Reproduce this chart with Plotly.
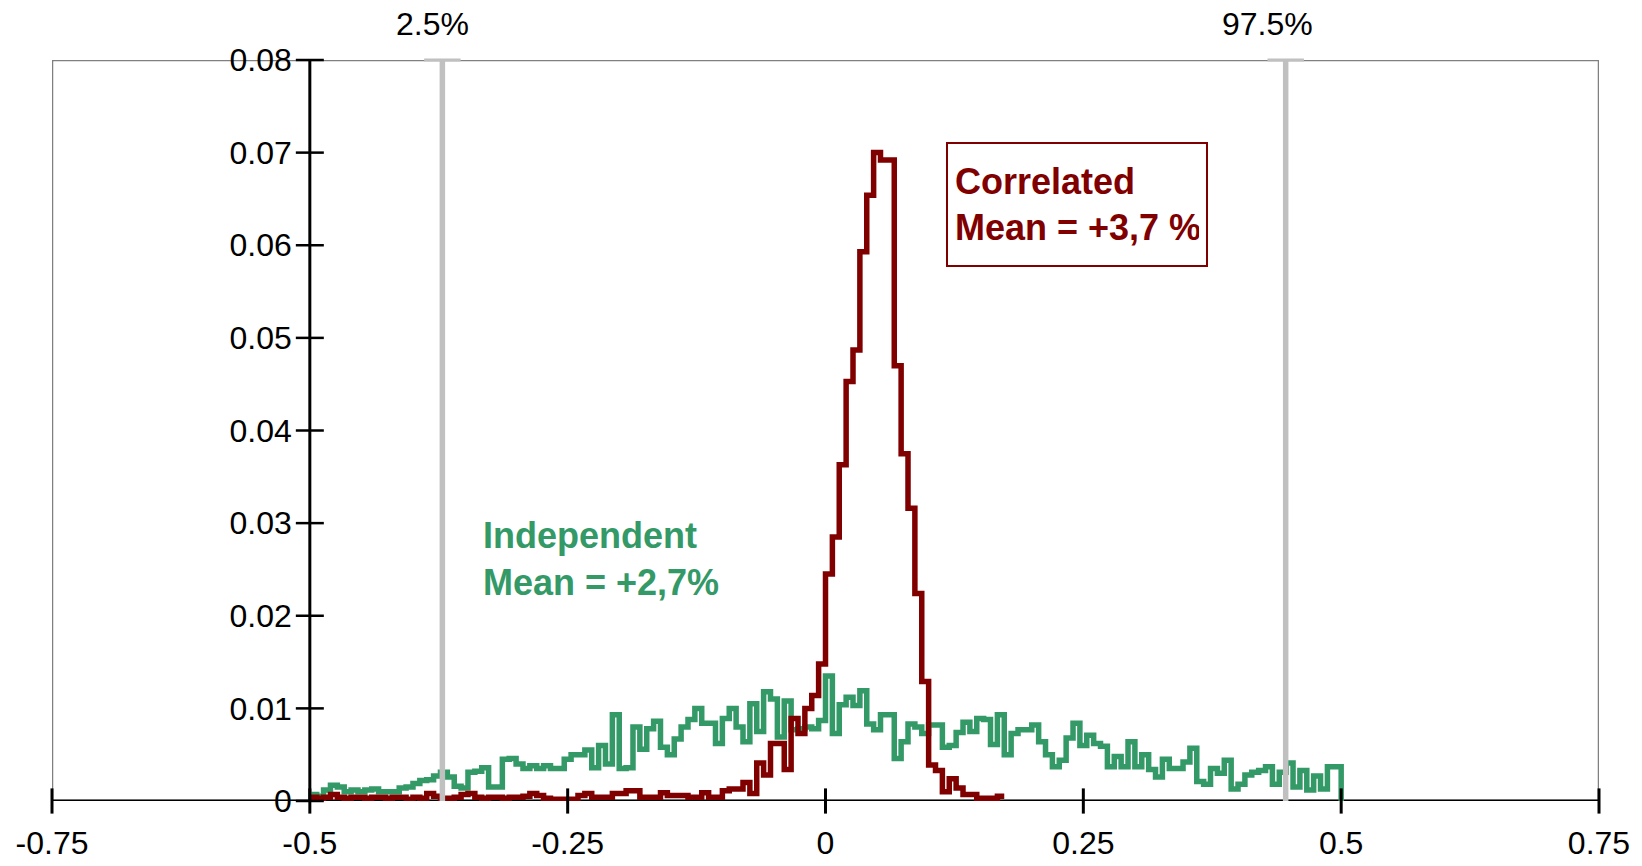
import plotly.graph_objects as go

# ---------------- data ----------------
BIN_START = -0.5
BIN_WIDTH = 1.0 / 150

INDEPENDENT = [
    0.0007, 0.0005, 0.0012, 0.0017, 0.0015, 0.0010, 0.0012, 0.0010, 0.0012, 0.0013,
    0.0010, 0.0010, 0.0010, 0.0014, 0.0015, 0.0019, 0.0022, 0.0023, 0.0027, 0.0031,
    0.0026, 0.0016, 0.0014, 0.0031, 0.0032, 0.0036, 0.0015, 0.0015, 0.0045, 0.0046,
    0.0040, 0.0035, 0.0038, 0.0035, 0.0038, 0.0035, 0.0035, 0.0045, 0.0050, 0.0050,
    0.0055, 0.0036, 0.0060, 0.0040, 0.0093, 0.0035, 0.0036, 0.0080, 0.0056, 0.0078,
    0.0086, 0.0058, 0.0050, 0.0067, 0.0080, 0.0088, 0.0100, 0.0084, 0.0084, 0.0062,
    0.0089, 0.0100, 0.0080, 0.0064, 0.0105, 0.0075, 0.0118, 0.0110, 0.0069, 0.0108,
    0.0077, 0.0078, 0.0080, 0.0078, 0.0087, 0.0135, 0.0073, 0.0104, 0.0112, 0.0103,
    0.0119, 0.0083, 0.0077, 0.0093, 0.0093, 0.0046, 0.0064, 0.0083, 0.0080, 0.0073,
    0.0082, 0.0082, 0.0058, 0.0060, 0.0074, 0.0085, 0.0075, 0.0089, 0.0088, 0.0061,
    0.0093, 0.0050, 0.0073, 0.0077, 0.0077, 0.0082, 0.0064, 0.0050, 0.0037, 0.0044,
    0.0068, 0.0084, 0.0060, 0.0071, 0.0062, 0.0059, 0.0037, 0.0048, 0.0037, 0.0064,
    0.0037, 0.0050, 0.0034, 0.0026, 0.0045, 0.0035, 0.0035, 0.0042, 0.0057, 0.0021,
    0.0018, 0.0035, 0.0030, 0.0044, 0.0013, 0.0018, 0.0028, 0.0031, 0.0033, 0.0037,
    0.0018, 0.0031, 0.0041, 0.0015, 0.0033, 0.0012, 0.0027, 0.0013, 0.0037, 0.0037,
]

CORRELATED = [
    0.0004, 0.0003, 0.0004, 0.0007, 0.0004, 0.0003, 0.0004, 0.0004, 0.0003, 0.0004,
    0.0004, 0.0003, 0.0004, 0.0004, 0.0002, 0.0004, 0.0003, 0.0008, 0.0005, 0.0002,
    0.0003, 0.0004, 0.0007, 0.0008, 0.0004, 0.0003, 0.0004, 0.0004, 0.0003, 0.0004,
    0.0004, 0.0005, 0.0008, 0.0006, 0.0003, 0.0002, 0.0002, 0.0002, 0.0002, 0.0006,
    0.0008, 0.0004, 0.0004, 0.0004, 0.0008, 0.0008, 0.0011, 0.0011, 0.0004, 0.0004,
    0.0004, 0.0009, 0.0006, 0.0006, 0.0006, 0.0004, 0.0004, 0.0009, 0.0004, 0.0004,
    0.0011, 0.0013, 0.0013, 0.0020, 0.0008, 0.0041, 0.0028, 0.0062, 0.0062, 0.0034,
    0.0089, 0.0073, 0.0100, 0.0114, 0.0148, 0.0245, 0.0285, 0.0363, 0.0453, 0.0487,
    0.0593, 0.0654, 0.0700, 0.0692, 0.0692, 0.0470, 0.0375, 0.0316, 0.0224, 0.0129,
    0.0039, 0.0033, 0.0010, 0.0024, 0.0014, 0.0007, 0.0007, 0.0003, 0.0003, 0.0003,
    0.0005,
]

X_RANGE = [-0.75, 0.75]
Y_RANGE = [0, 0.08]
X_TICKS = [-0.75, -0.5, -0.25, 0, 0.25, 0.5, 0.75]
X_TICK_LABELS = ["-0.75", "-0.5", "-0.25", "0", "0.25", "0.5", "0.75"]
Y_TICKS = [0, 0.01, 0.02, 0.03, 0.04, 0.05, 0.06, 0.07, 0.08]
Y_TICK_LABELS = ["0", "0.01", "0.02", "0.03", "0.04", "0.05", "0.06", "0.07", "0.08"]
Y_AXIS_X = -0.5
PERCENTILE_X = [-0.3715, 0.4462]
PERCENTILE_LABELS = ["2.5%", "97.5%"]

# ---------------- style ----------------
GREEN = "#339966"
DARKRED = "#800000"
GRAY_LINE = "#C0C0C0"
FRAME = "#808080"
FONT = "Liberation Sans, Arial, sans-serif"


def step_xy(vals, drop_to_zero):
    xs = [BIN_START + i * BIN_WIDTH for i in range(len(vals) + 1)]
    ys = list(vals) + [vals[-1]]
    if drop_to_zero:
        xs.append(xs[-1])
        ys.append(0)
    return xs, ys


fig = go.Figure()

gx, gy = step_xy(INDEPENDENT, True)
fig.add_trace(go.Scatter(x=gx, y=gy, mode="lines", line=dict(color=GREEN, width=5.5, shape="hv"),
                         hoverinfo="skip", cliponaxis=False))
rx, ry = step_xy(CORRELATED, False)
fig.add_trace(go.Scatter(x=rx, y=ry, mode="lines", line=dict(color=DARKRED, width=5.5, shape="hv"),
                         hoverinfo="skip", cliponaxis=False))

# tick marks crossing the axes
fig.add_trace(go.Scatter(x=X_TICKS, y=[Y_RANGE[0]] * len(X_TICKS), mode="markers",
                         marker=dict(symbol="line-ns", size=18, line=dict(color="black", width=3)),
                         hoverinfo="skip", cliponaxis=False))
fig.add_trace(go.Scatter(x=[Y_AXIS_X] * len(Y_TICKS), y=Y_TICKS, mode="markers",
                         marker=dict(symbol="line-ew", size=20, line=dict(color="black", width=2.5)),
                         hoverinfo="skip", cliponaxis=False))

# percentile lines
for px in PERCENTILE_X:
    fig.add_trace(go.Scatter(x=[px, px], y=[Y_RANGE[0], Y_RANGE[1]], mode="lines",
                             line=dict(color=GRAY_LINE, width=5.5), hoverinfo="skip", cliponaxis=False))
    fig.add_trace(go.Scatter(x=[px], y=[Y_RANGE[1]], mode="markers",
                             marker=dict(symbol="line-ew", size=26, line=dict(color=GRAY_LINE, width=3)),
                             hoverinfo="skip", cliponaxis=False))

shapes = [
    dict(type="rect", xref="x", yref="y", x0=X_RANGE[0], x1=X_RANGE[1], y0=Y_RANGE[0], y1=Y_RANGE[1],
         line=dict(color=FRAME, width=2.5), layer="below"),
    dict(type="line", xref="x", yref="y", x0=X_RANGE[0], x1=X_RANGE[1], y0=0, y1=0,
         line=dict(color="black", width=3), layer="below"),
    dict(type="line", xref="x", yref="y", x0=Y_AXIS_X, x1=Y_AXIS_X, y0=Y_RANGE[0], y1=Y_RANGE[1],
         line=dict(color="black", width=3), layer="below"),
]

annotations = []
for px, lab in zip(PERCENTILE_X, PERCENTILE_LABELS):
    annotations.append(dict(x=px, xref="x", y=1, yref="paper", text=lab, showarrow=False,
                            xanchor="right", xshift=29, yanchor="middle", yshift=36,
                            font=dict(family=FONT, size=32, color="black")))

annotations.append(dict(x=0.2437, xref="x", y=0.06435, yref="y",
                        text="<b>Correlated<br>Mean = +3,7 %</b>", showarrow=False,
                        xanchor="center", yanchor="middle", align="left", valign="middle",
                        width=244, height=107, borderpad=7, borderwidth=2, bordercolor=DARKRED,
                        bgcolor="white", font=dict(family=FONT, size=36, color=DARKRED)))
annotations.append(dict(x=-0.3337, xref="x", y=0.0261, yref="y",
                        text="<b>Independent<br>Mean = +2,7%</b>", showarrow=False,
                        xanchor="left", yanchor="middle", align="left",
                        font=dict(family=FONT, size=36, color=GREEN)))

y_pos = (Y_AXIS_X - X_RANGE[0]) / (X_RANGE[1] - X_RANGE[0])

fig.update_layout(
    width=1642, height=866,
    margin=dict(l=52, r=43, t=60, b=65, autoexpand=False),
    paper_bgcolor="white", plot_bgcolor="white",
    showlegend=False,
    font=dict(family=FONT, size=32, color="black"),
    xaxis=dict(range=X_RANGE, showgrid=False, zeroline=False, showline=False, ticks="",
               tickvals=X_TICKS, ticktext=X_TICK_LABELS, ticklabelstandoff=20, automargin=False,
               tickfont=dict(family=FONT, size=32, color="black"), fixedrange=True),
    yaxis=dict(range=Y_RANGE, showgrid=False, zeroline=False, showline=False, ticks="",
               tickvals=Y_TICKS, ticktext=Y_TICK_LABELS, anchor="free", position=y_pos,
               ticklabelstandoff=18, automargin=False,
               tickfont=dict(family=FONT, size=32, color="black"),
               fixedrange=True),
    shapes=shapes,
    annotations=annotations,
)

fig.write_html("out.html")
